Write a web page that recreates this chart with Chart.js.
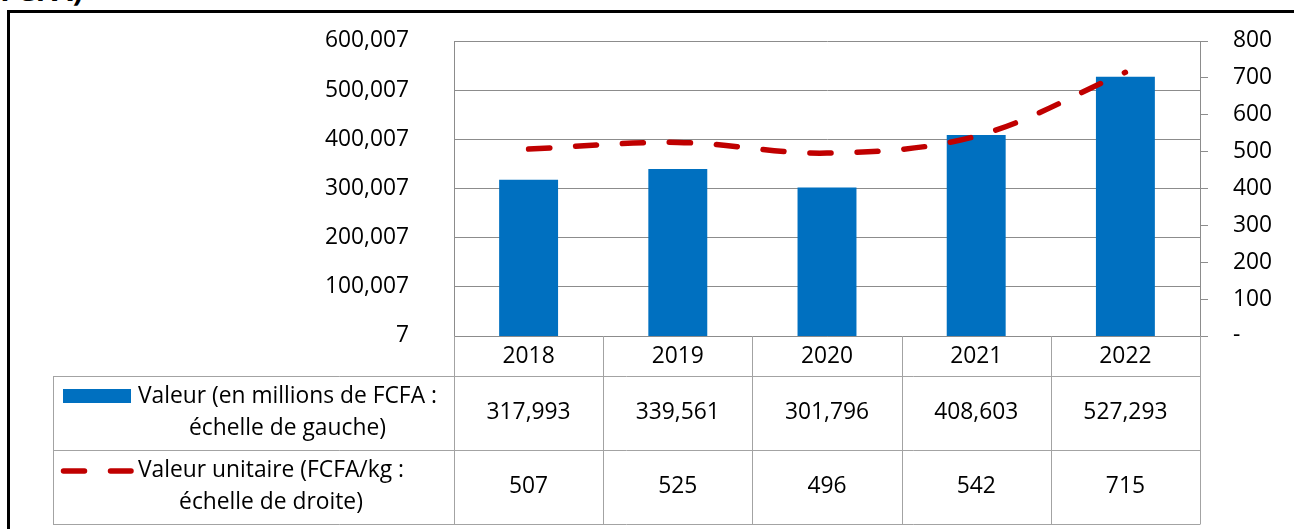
<!DOCTYPE html>
<html>
<head>
<meta charset="utf-8">
<script src="https://cdn.jsdelivr.net/npm/chart.js@4.4.1/dist/chart.umd.min.js"></script>
<style>
html, body { margin: 0; padding: 0; background: #fff; overflow: hidden; }
#wrap { position: relative; width: 1294px; height: 529px; overflow: hidden; }
#frame { position: absolute; left: 7px; top: 10px; width: 1400px; height: 700px; border-left: 3px solid #000; border-top: 3px solid #000; }
#title { position: absolute; left: 0px; top: -31px; font: bold 30px "Open Sans", sans-serif; color: #000; }
#chart { position: absolute; left: 0; top: 0; }
</style>
</head>
<body>
<div id="wrap">
  <div id="title">FCFA)</div>
  <div id="frame"></div>
  <canvas id="chart" width="1294" height="529"></canvas>
</div>
<script>
const years = ['2018', '2019', '2020', '2021', '2022']
const valeur = [317993, 339561, 301796, 408603, 527293]
const valeurUnitaire = [507, 525, 496, 542, 715]
const seriesNames = [
    ['Valeur (en millions de FCFA :', 'échelle de gauche)'],
    ['Valeur unitaire (FCFA/kg :', 'échelle de droite)']
]
// left axis runs 7 .. 600,007, right axis 0 .. 800 ("-" for zero)
const leftMin = 7, leftMax = 600007, leftStep = 100000
const rightMin = 0, rightMax = 800, rightStep = 100

const FONT = '"Open Sans", sans-serif'
const FSIZE = 22.8
const GRID = '#8c8c8c'
const TABLE = '#a3a3a3'

const fmt = v => v.toLocaleString('en-US')

// data table under the plot, Excel style
const dataTable = {
    id: 'dataTable',
    afterDraw(chart) {
        const ctx = chart.ctx
        const x = chart.scales.x
        const area = chart.chartArea
        const n = chart.data.labels.length
        const half = (x.getPixelForValue(1) - x.getPixelForValue(0)) / 2
        const edges = []
        for (let i = 0; i < n; i++) edges.push(x.getPixelForValue(i) - half)
        edges.push(x.getPixelForValue(n - 1) + half)

        const tableLeft = 53
        const rows = [area.bottom, 376, 450, 524]

        ctx.save()
        ctx.strokeStyle = TABLE
        ctx.lineWidth = 1
        ctx.beginPath()
        // horizontal lines
        for (let r = 1; r < rows.length; r++) {
            const y = Math.round(rows[r]) + 0.5
            ctx.moveTo(tableLeft, y)
            ctx.lineTo(edges[n], y)
        }
        // vertical lines
        edges.forEach(e => {
            const xx = Math.round(e) + 0.5
            ctx.moveTo(xx, rows[0])
            ctx.lineTo(xx, rows[3] + 0.5)
        })
        ctx.moveTo(tableLeft + 0.5, rows[1])
        ctx.lineTo(tableLeft + 0.5, rows[3] + 0.5)
        ctx.stroke()

        ctx.fillStyle = '#000'
        ctx.font = FSIZE + 'px ' + FONT
        ctx.textAlign = 'center'
        ctx.textBaseline = 'middle'
        const mid = r => (rows[r] + rows[r + 1]) / 2
        chart.data.labels.forEach((lab, i) => {
            const cx = x.getPixelForValue(i)
            ctx.fillText(lab, cx, mid(0) + 1)
            ctx.fillText(fmt(chart.data.datasets[1].data[i]), cx, mid(1))
            ctx.fillText(fmt(chart.data.datasets[0].data[i]), cx, mid(2))
        })

        // legend keys
        ctx.fillStyle = '#0070C0'
        ctx.fillRect(63, 389, 68, 14)
        ctx.strokeStyle = '#C00000'
        ctx.lineWidth = 5.5
        ctx.lineCap = 'round'
        ctx.setLineDash([21, 26])
        ctx.beginPath()
        ctx.moveTo(63.5, 471)
        ctx.lineTo(131, 471)
        ctx.stroke()
        ctx.setLineDash([])

        // legend texts, each block centred from x = 138
        ctx.fillStyle = '#000'
        seriesNames.forEach((lines, k) => {
            const w = Math.max(...lines.map(l => ctx.measureText(l).width))
            const cx = 138 + w / 2
            const cy = mid(k + 1)
            ctx.fillText(lines[0], cx, cy - 16)
            ctx.fillText(lines[1], cx, cy + 16)
        })
        ctx.restore()
    }
}

const ctx = document.getElementById('chart').getContext('2d')
const chart = new Chart(ctx, {
    data: {
        labels: years,
        datasets: [{
            type: 'line',
            label: seriesNames[1].join(' '),
            data: valeurUnitaire,
            yAxisID: 'y1',
            borderColor: '#C00000',
            borderWidth: 5.5,
            borderDash: [21, 26],
            borderCapStyle: 'round',
            tension: 0.35,
            pointRadius: 0,
            fill: false,
            order: 0
        }, {
            type: 'bar',
            label: seriesNames[0].join(' '),
            data: valeur,
            yAxisID: 'y',
            backgroundColor: '#0070C0',
            barPercentage: 0.395,
            categoryPercentage: 1,
            order: 1
        }]
    },
    options: {
        responsive: false,
        animation: false,
        layout: { padding: { top: 41, bottom: 193, left: 0, right: 0 } },
        plugins: {
            legend: { display: false },
            tooltip: { enabled: false }
        },
        scales: {
            x: {
                ticks: { display: false },
                grid: { display: false, drawTicks: false },
                border: { color: GRID },
                afterFit(s) { s.height = 0 }
            },
            y: {
                position: 'left',
                min: leftMin,
                max: leftMax,
                ticks: {
                    stepSize: leftStep,
                    padding: 45,
                    color: '#000',
                    font: { family: FONT, size: FSIZE },
                    callback: v => fmt(v)
                },
                grid: { color: GRID, drawTicks: false },
                border: { color: GRID },
                afterFit(s) { s.width = 454; s.paddingTop = 0; s.paddingBottom = 0 }
            },
            y1: {
                position: 'right',
                min: rightMin,
                max: rightMax,
                ticks: {
                    stepSize: rightStep,
                    padding: 25,
                    color: '#000',
                    font: { family: FONT, size: FSIZE },
                    callback: v => v === 0 ? '-' : v
                },
                grid: { drawOnChartArea: false, tickLength: 8, color: GRID },
                border: { color: GRID },
                afterFit(s) { s.width = 94; s.paddingTop = 0; s.paddingBottom = 0 }
            }
        }
    },
    plugins: [dataTable]
})
</script>
</body>
</html>
